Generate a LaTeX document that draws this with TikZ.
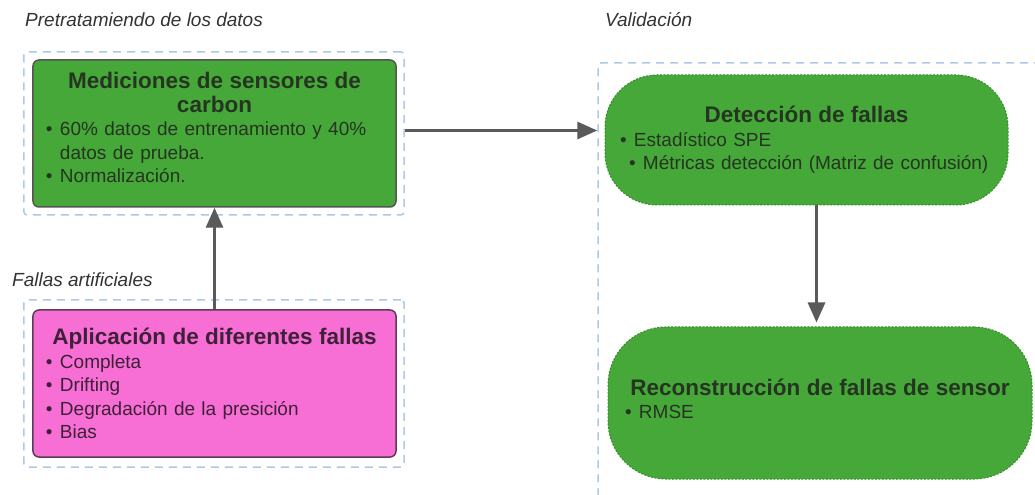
\documentclass[tikz,border=0pt]{standalone}
\usepackage{fontspec}
\setmainfont{Liberation Sans}
\usetikzlibrary{arrows.meta}
\definecolor{boxgreen}{RGB}{70,168,56}
\definecolor{boxpink}{RGB}{247,110,212}
\definecolor{boxedge}{RGB}{85,85,85}
\definecolor{pinkedge}{RGB}{90,60,85}
\definecolor{stageedge}{RGB}{55,140,45}
\definecolor{groupblue}{RGB}{170,202,232}
\definecolor{arrowgray}{RGB}{90,90,90}
\definecolor{greentext}{RGB}{38,52,34}
\definecolor{pinktext}{RGB}{62,32,56}
\definecolor{labelgray}{RGB}{51,51,51}
\newcommand{\bodyfont}{\fontsize{19bp}{23.5bp}\selectfont}
\newcommand{\titlefont}{\fontsize{22.5bp}{24bp}\selectfont\bfseries}
\newcommand{\ttl}[1]{{\titlefont\centering #1\par}}
\newcommand{\itm}[2][0bp]{\par\hangindent=\dimexpr#1+14bp\relax\hangafter=1\noindent\hspace*{#1}\makebox[14bp][l]{\textbullet}#2}
\tikzset{
  group/.style={draw=groupblue,line width=1.5bp,dash pattern=on 8bp off 6bp,rounded corners=3bp,inner sep=0pt},
  grouplabel/.style={anchor=west,font=\bodyfont\itshape,text=labelgray,inner sep=0pt},
  databox/.style={draw=boxedge,line width=1.5bp,fill=boxgreen,rounded corners=6bp,text width=337bp,inner xsep=13bp,inner ysep=0pt,minimum height=147bp,align=left,text=greentext,font=\bodyfont},
  faultbox/.style={databox,draw=pinkedge,fill=boxpink,text=pinktext},
  stagebox/.style={draw=stageedge,line width=1bp,dash pattern=on 2bp off 1.5bp,fill=boxgreen,inner ysep=0pt,align=left,text=greentext,font=\bodyfont},
  flow/.style={->,draw=arrowgray,line width=3bp},
}
\begin{document}
\begin{tikzpicture}[>={Triangle[length=20bp,width=17bp]},x=1bp,y=-1bp,line join=bevel]
\path[use as bounding box,fill=white] (0,0) rectangle (1035,495);
%% groups
\node (pre) at (214,133.5) [group,minimum width=380bp,minimum height=163bp] {};
\node (fal) at (214,383.5) [group,minimum width=380bp,minimum height=167bp] {};
\node (val) at (821.5,284) [group,minimum width=447bp,minimum height=442bp] {};
\node (prelabel) at (25,20) [grouplabel] {Pretratamiendo de los datos};
\node (fallabel) at (12,280) [grouplabel] {Fallas artificiales};
\node (vallabel) at (605,20) [grouplabel] {Validación};
%% boxes
\node (med) at (214.5,133.5) [databox] {\ttl{Mediciones de sensores de\\carbon}%
  \itm{60\% datos de entrenamiento y 40\% datos de prueba.}%
  \itm{Normalización.}\par\vspace{12bp}};
\node (app) at (214.5,383.5) [faultbox] {\ttl{Aplicación de diferentes fallas}%
  \itm{Completa}\itm{Drifting}\itm{Degradación de la presición}\itm{Bias}};
\node (det) at (806.5,140) [stagebox,rounded corners=52bp,text width=373bp,inner xsep=15bp,minimum height=130bp] {\ttl{Detección de fallas}%
  \itm{Estadístico SPE}\itm[9bp]{\mbox{Métricas detección (Matriz de confusión)}}};
\node (rec) at (820,403) [stagebox,rounded corners=58bp,text width=390bp,inner xsep=17bp,minimum height=152bp] {\ttl{Reconstrucción de fallas de sensor}%
  \itm{RMSE}\par\vspace{8bp}};
%% connectors
\draw [flow] (app.north) -- (med.south);
\draw [flow] ([yshift=3bp]pre.east) -- ([yshift=3bp]pre.east -| val.west);
\draw [flow,shorten >=4bp] ([xshift=10bp]det.south) -- ([xshift=10bp]det.south |- rec.north);
%
\end{tikzpicture}
\end{document}
